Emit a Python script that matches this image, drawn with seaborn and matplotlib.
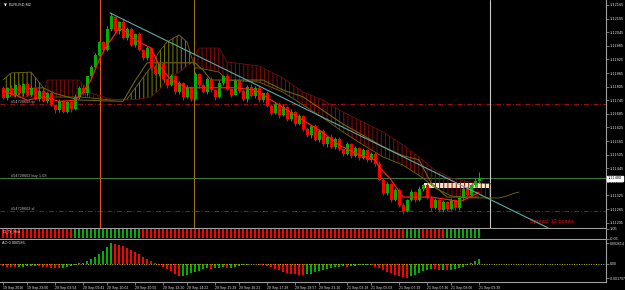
import matplotlib
matplotlib.use("Agg")
import matplotlib.pyplot as plt
import matplotlib.patches as mpatches
import numpy as np
import seaborn as sns

sns.set_theme(style="dark", rc={
    "axes.facecolor": "black",
    "figure.facecolor": "black",
    "savefig.facecolor": "black",
    "axes.grid": False,
})
plt.rcParams["font.family"] = ["Liberation Sans", "DejaVu Sans"]
plt.rcParams["hatch.linewidth"] = 0.7

# ---- EURUSD M2 candles (one entry per bar) ----
opens = [
    1.11800, 1.11755, 1.11800, 1.11770, 1.11810, 1.11775, 1.11815, 1.11770, 1.11800, 1.11750,
    1.11785, 1.11740, 1.11775, 1.11725, 1.11700, 1.11740, 1.11695, 1.11735, 1.11705, 1.11760,
    1.11800, 1.11775, 1.11850, 1.11890, 1.11945, 1.12000, 1.11965, 1.12060, 1.12110, 1.12050,
    1.12090, 1.12020, 1.12060, 1.11990, 1.12035, 1.11965, 1.11930, 1.11975, 1.11890, 1.11860,
    1.11905, 1.11840, 1.11810, 1.11850, 1.11780, 1.11820, 1.11760, 1.11800, 1.11750, 1.11860,
    1.11810, 1.11780, 1.11840, 1.11790, 1.11760, 1.11820, 1.11850, 1.11795, 1.11770, 1.11830,
    1.11785, 1.11750, 1.11805, 1.11765, 1.11800, 1.11745, 1.11775, 1.11720, 1.11690, 1.11730,
    1.11680, 1.11715, 1.11660, 1.11695, 1.11640, 1.11675, 1.11620, 1.11590, 1.11630, 1.11570,
    1.11610, 1.11550, 1.11585, 1.11540, 1.11575, 1.11530, 1.11510, 1.11550, 1.11500, 1.11535,
    1.11490, 1.11525, 1.11480, 1.11510, 1.11465, 1.11395, 1.11335, 1.11375, 1.11305, 1.11350,
    1.11285, 1.11255, 1.11305, 1.11340, 1.11305, 1.11355, 1.11370, 1.11315, 1.11270, 1.11305,
    1.11260, 1.11295, 1.11265, 1.11305, 1.11270, 1.11315, 1.11355, 1.11325, 1.11370, 1.11390,
]
closes = [
    1.11755, 1.11800, 1.11770, 1.11810, 1.11775, 1.11815, 1.11770, 1.11800, 1.11750, 1.11785,
    1.11740, 1.11775, 1.11725, 1.11700, 1.11740, 1.11695, 1.11735, 1.11705, 1.11760, 1.11800,
    1.11775, 1.11850, 1.11890, 1.11945, 1.12000, 1.11965, 1.12060, 1.12115, 1.12050, 1.12090,
    1.12020, 1.12060, 1.11990, 1.12035, 1.11965, 1.11930, 1.11975, 1.11890, 1.11860, 1.11905,
    1.11840, 1.11810, 1.11850, 1.11780, 1.11820, 1.11760, 1.11800, 1.11750, 1.11860, 1.11810,
    1.11780, 1.11840, 1.11790, 1.11760, 1.11820, 1.11850, 1.11795, 1.11770, 1.11830, 1.11785,
    1.11750, 1.11805, 1.11765, 1.11800, 1.11745, 1.11775, 1.11720, 1.11690, 1.11730, 1.11680,
    1.11715, 1.11660, 1.11695, 1.11640, 1.11675, 1.11620, 1.11590, 1.11630, 1.11570, 1.11610,
    1.11550, 1.11585, 1.11540, 1.11575, 1.11530, 1.11510, 1.11550, 1.11500, 1.11535, 1.11490,
    1.11525, 1.11480, 1.11510, 1.11465, 1.11395, 1.11335, 1.11375, 1.11305, 1.11350, 1.11285,
    1.11255, 1.11305, 1.11340, 1.11305, 1.11355, 1.11370, 1.11315, 1.11270, 1.11305, 1.11260,
    1.11295, 1.11265, 1.11305, 1.11270, 1.11315, 1.11355, 1.11325, 1.11370, 1.11390, 1.11400,
]
highs = [
    1.11808, 1.11805, 1.11812, 1.11816, 1.11820, 1.11819, 1.11824, 1.11807, 1.11808, 1.11790,
    1.11797, 1.11781, 1.11785, 1.11729, 1.11749, 1.11747, 1.11743, 1.11740, 1.11772, 1.11806,
    1.11810, 1.11854, 1.11899, 1.11952, 1.12008, 1.12005, 1.12072, 1.12130, 1.12118, 1.12095,
    1.12102, 1.12066, 1.12070, 1.12039, 1.12044, 1.11972, 1.11983, 1.11980, 1.11902, 1.11911,
    1.11915, 1.11844, 1.11859, 1.11857, 1.11828, 1.11825, 1.11812, 1.11806, 1.11870, 1.11864,
    1.11819, 1.11847, 1.11848, 1.11795, 1.11832, 1.11856, 1.11860, 1.11799, 1.11839, 1.11837,
    1.11793, 1.11810, 1.11817, 1.11806, 1.11810, 1.11779, 1.11784, 1.11727, 1.11738, 1.11735,
    1.11727, 1.11721, 1.11705, 1.11699, 1.11684, 1.11682, 1.11628, 1.11635, 1.11642, 1.11616,
    1.11620, 1.11589, 1.11594, 1.11582, 1.11583, 1.11535, 1.11562, 1.11556, 1.11545, 1.11539,
    1.11534, 1.11532, 1.11518, 1.11515, 1.11477, 1.11401, 1.11385, 1.11379, 1.11359, 1.11357,
    1.11293, 1.11310, 1.11352, 1.11346, 1.11365, 1.11374, 1.11379, 1.11322, 1.11313, 1.11310,
    1.11307, 1.11301, 1.11315, 1.11309, 1.11324, 1.11362, 1.11363, 1.11375, 1.11402, 1.11428,
]
lows = [
    1.11749, 1.11745, 1.11766, 1.11761, 1.11768, 1.11763, 1.11765, 1.11762, 1.11744, 1.11740,
    1.11736, 1.11731, 1.11718, 1.11688, 1.11695, 1.11687, 1.11689, 1.11695, 1.11701, 1.11751,
    1.11768, 1.11763, 1.11845, 1.11882, 1.11939, 1.11955, 1.11961, 1.12051, 1.12043, 1.12038,
    1.12015, 1.12012, 1.11984, 1.11980, 1.11961, 1.11921, 1.11923, 1.11878, 1.11855, 1.11852,
    1.11834, 1.11800, 1.11806, 1.11771, 1.11773, 1.11748, 1.11755, 1.11742, 1.11744, 1.11800,
    1.11776, 1.11771, 1.11783, 1.11748, 1.11755, 1.11812, 1.11789, 1.11760, 1.11766, 1.11776,
    1.11743, 1.11738, 1.11760, 1.11757, 1.11739, 1.11735, 1.11716, 1.11681, 1.11683, 1.11668,
    1.11675, 1.11652, 1.11654, 1.11630, 1.11636, 1.11611, 1.11583, 1.11578, 1.11565, 1.11562,
    1.11544, 1.11540, 1.11536, 1.11531, 1.11523, 1.11498, 1.11505, 1.11492, 1.11494, 1.11480,
    1.11486, 1.11471, 1.11473, 1.11453, 1.11390, 1.11327, 1.11329, 1.11295, 1.11301, 1.11276,
    1.11245, 1.11250, 1.11300, 1.11295, 1.11301, 1.11346, 1.11308, 1.11258, 1.11265, 1.11252,
    1.11254, 1.11255, 1.11261, 1.11261, 1.11263, 1.11303, 1.11320, 1.11317, 1.11364, 1.11380,
]

# ---- Ichimoku-style lines (bar index, price) ----
tenkan_bar = [0, 3, 6, 10, 14, 18, 20, 22, 24, 26, 27, 29, 31, 33, 37, 39, 42, 46, 52, 58,
              63, 69, 74, 79, 84, 89, 93, 94, 97, 100, 107, 112, 114, 117, 119]
tenkan = [1.11785, 1.11770, 1.11745, 1.11760, 1.11740, 1.11745, 1.11780, 1.11834, 1.11922, 1.11990,
          1.12011, 1.12063, 1.12045, 1.12011, 1.11975, 1.11900, 1.11834, 1.11800, 1.11800, 1.11800,
          1.11790, 1.11724, 1.11667, 1.11614, 1.11548, 1.11504, 1.11482, 1.11452, 1.11394, 1.11318,
          1.11318, 1.11305, 1.11296, 1.11320, 1.11340]

kijun_bar = [0, 10, 13, 19, 30, 33, 36, 48, 50, 52, 65, 70, 75, 80, 85, 90, 95, 100, 104, 107, 111, 119]
kijun = [1.11790, 1.11800, 1.11775, 1.11746, 1.11740, 1.11830, 1.11910, 1.11910, 1.11878, 1.11834,
         1.11834, 1.11790, 1.11760, 1.11700, 1.11640, 1.11590, 1.11540, 1.11500, 1.11482, 1.11381,
         1.11318, 1.11318]

cloud_bar = [0, 2, 7, 10, 11, 19, 22, 27, 31, 34, 37, 39, 41, 44, 46, 47, 48, 49, 54, 56,
             64, 70, 75, 80, 85, 90, 95, 100, 105, 108, 112, 117, 122]
span_a = [1.11834, 1.11865, 1.11869, 1.11803, 1.11759, 1.11759, 1.11755, 1.11746, 1.11750, 1.11821,
          1.11892, 1.11958, 1.12002, 1.12033, 1.12002, 1.11944, 1.11887, 1.11887, 1.11869, 1.11834,
          1.11825, 1.11781, 1.11724, 1.11667, 1.11605, 1.11548, 1.11495, 1.11459, 1.11402, 1.11358,
          1.11323, 1.11314, 1.11314]
span_b = [1.11759, 1.11759, 1.11759, 1.11759, 1.11834, 1.11834, 1.11777, 1.11750, 1.11746, 1.11750,
          1.11759, 1.11790, 1.11834, 1.11869, 1.11896, 1.11909, 1.11944, 1.11975, 1.11975, 1.11914,
          1.11896, 1.11843, 1.11781, 1.11746, 1.11693, 1.11649, 1.11605, 1.11548, 1.11481, 1.11437,
          1.11402, 1.11384, 1.11376]
span_a_tail_bar = [122, 124, 126, 128, 129]
span_a_tail = [1.11314, 1.11314, 1.11323, 1.11336, 1.11340]

# ---- Awesome Oscillator ----
ao = [
    -0.00030, -0.00035, -0.00040, -0.00045, -0.00042, -0.00038, -0.00030, -0.00025, -0.00022, -0.00028,
    -0.00035, -0.00042, -0.00050, -0.00055, -0.00058, -0.00052, -0.00040, -0.00025, -0.00010, 0.00005,
    0.00015, 0.00035, 0.00060, 0.00090, 0.00120, 0.00160, 0.00210, 0.002614, 0.00252, 0.00240,
    0.00222, 0.00200, 0.00175, 0.00148, 0.00118, 0.00088, 0.00058, 0.00030, 0.00005, -0.00020,
    -0.00045, -0.00070, -0.00095, -0.00125, -0.00160, -0.00150, -0.00138, -0.00122, -0.00105, -0.00085,
    -0.00065, -0.00055, -0.00062, -0.00058, -0.00050, -0.00045, -0.00052, -0.00048, -0.00040, -0.00030,
    -0.00020, -0.00012, -0.00008, -0.00005, -0.00010, -0.00018, -0.00030, -0.00045, -0.00062, -0.00080,
    -0.00098, -0.00112, -0.00125, -0.00132, -0.00138, -0.00140, -0.00135, -0.00125, -0.00110, -0.00095,
    -0.00080, -0.00068, -0.00055, -0.00045, -0.00038, -0.00032, -0.00035, -0.00028, -0.00022, -0.00018,
    -0.00015, -0.00013, -0.00020, -0.00035, -0.00055, -0.00078, -0.00100, -0.00120, -0.00138, -0.00155,
    -0.00170, -0.001797, -0.00160, -0.00140, -0.00118, -0.00095, -0.00075, -0.00068, -0.00072, -0.00080,
    -0.00075, -0.00082, -0.00078, -0.00070, -0.00058, -0.00040, -0.00015, 0.00008, 0.00030, 0.000586,
]

# ---- Di_Tr_Hist state per bar (G = up, R = down) ----
di_state = "R" * 18 + "G" * 17 + "R" * 66 + "G" * 4 + "R" * 6 + "G" * 9

# ---- orders, objects and labels ----
tp_price, buy_price, sl_price = 1.11728, 1.11402, 1.11257
order_id = "#54728602"
vline_bars = [24.25, 47.75, 121.75]
vline_colors = ["#e8501a", "#9a7412", "#c8c8c8"]
trend_bars = [26.75, 136.25]
trend_price = [1.12130, 1.11182]
label_box = dict(start=105.25, end=121.5, low=1.11358, high=1.11381)

price_ticks = [1.11205, 1.11265, 1.11325, 1.11385, 1.11445, 1.11505, 1.11565, 1.11625, 1.11685,
               1.11745, 1.11805, 1.11865, 1.11925, 1.11985, 1.12045, 1.12105, 1.12165]
time_bars = [0, 6, 13, 20, 26, 33, 40, 46, 53, 59, 66, 73, 79, 86, 92, 99, 106, 112, 119]
time_labels = ["19 Sep 2016", "19 Sep 23:00", "20 Sep 03:54", "20 Sep 09:41", "20 Sep 10:02",
               "20 Sep 10:55", "20 Sep 12:20", "20 Sep 14:22", "20 Sep 15:28", "20 Sep 16:21",
               "20 Sep 17:28", "20 Sep 18:57", "20 Sep 21:16", "21 Sep 03:18", "21 Sep 05:03",
               "21 Sep 07:19", "21 Sep 07:36", "21 Sep 08:06", "21 Sep 09:39"]

BULL, BEAR = "#00b000", "#ff0000"
OLIVE, MAROON = "#7d7d00", "#8a0a0a"
AXCOL, TXT = "#a0a0a0", "#e0e0e0"
XLIM = (-0.75, 150.75)
YFS = 2.8

fig = plt.figure(figsize=(6.25, 2.9), dpi=100)
ax = fig.add_axes([0.0, 62 / 290, 606 / 625, 228 / 290])
ax_di = fig.add_axes([0.0, 51.5 / 290, 606 / 625, 9.5 / 290])
ax_ao = fig.add_axes([0.0, 8 / 290, 606 / 625, 42 / 290])

for a in (ax, ax_di, ax_ao):
    a.set_facecolor("black")
    a.set_xlim(*XLIM)
    for s in ("left", "top"):
        a.spines[s].set_visible(False)
    for s in ("right", "bottom"):
        a.spines[s].set_color(AXCOL)
        a.spines[s].set_linewidth(0.8)
    a.yaxis.tick_right()
    a.tick_params(axis="y", colors=AXCOL, labelcolor=TXT, labelsize=YFS, length=2,
                  width=0.5, pad=1.0, direction="out")
    a.tick_params(axis="x", bottom=False, labelbottom=False)

# ---- main price panel ----
bars = np.arange(len(closes))
o, c, h, l = map(np.array, (opens, closes, highs, lows))
col = np.where(c >= o, BULL, BEAR)

box = mpatches.Rectangle((label_box["start"], label_box["low"]), label_box["end"] - label_box["start"],
                         label_box["high"] - label_box["low"], facecolor="#fbe4c6", lw=0, zorder=1.5)
ax.add_patch(box)

cb, sa, sb = np.array(cloud_bar), np.array(span_a), np.array(span_b)
ax.fill_between(cb, sa, sb, where=sa >= sb, interpolate=True, facecolor="none",
                edgecolor=OLIVE, hatch="||||", lw=0, zorder=2)
ax.fill_between(cb, sa, sb, where=sa < sb, interpolate=True, facecolor="none",
                edgecolor=MAROON, hatch="||||", lw=0, zorder=2)
sns.lineplot(x=cloud_bar + span_a_tail_bar[1:], y=span_a + span_a_tail[1:], ax=ax,
             color="#6f6a10", lw=0.6, zorder=2.5)
sns.lineplot(x=cloud_bar, y=span_b, ax=ax, color="#6a1010", lw=0.6, zorder=2.5)
sns.lineplot(x=kijun_bar, y=kijun, ax=ax, color="#6f6210", lw=0.8, zorder=3)

ax.axhline(tp_price, color="#a01010", lw=0.7, ls=(0, (5, 2, 1, 2)), zorder=1)
ax.axhline(sl_price, color="#a01010", lw=0.7, ls=(0, (5, 2, 1, 2)), zorder=1)
ax.axhline(buy_price, color="#3f7f3f", lw=0.7, zorder=1)
for vb, vc in zip(vline_bars, vline_colors):
    ax.axvline(vb, color=vc, lw=0.8, zorder=1)

ax.vlines(bars, l, h, colors=col, lw=0.72, zorder=4)
ax.bar(bars, np.abs(c - o), bottom=np.minimum(o, c), width=0.75, color=col, lw=0, zorder=5)

sns.lineplot(x=tenkan_bar, y=tenkan, ax=ax, color="#ff1a1a", lw=0.9, zorder=6)
sns.lineplot(x=trend_bars, y=trend_price, ax=ax, color="#5fa8a4", lw=0.8, zorder=6)

ax.set_ylim(1.111815, 1.12187)
ax.set_yticks(price_ticks)
ax.set_yticklabels([f"{v:.5f}" for v in price_ticks])
ax.set_xlabel("")
ax.set_ylabel("")

ax.text(2, tp_price, f"{order_id} tp", color="#b8b8b8", fontsize=2.8, va="bottom", ha="left")
ax.text(2, buy_price, f"{order_id} buy 1.08", color="#b8b8b8", fontsize=2.8, va="bottom", ha="left")
ax.text(2, sl_price, f"{order_id} sl", color="#b8b8b8", fontsize=2.8, va="bottom", ha="left")
ax.text(0.875, 0.03, "Spread: 12 points.", transform=ax.transAxes, color="#e01010",
        fontsize=4.0, va="center", ha="left")
ax.text(0.006, 0.985, "\u25bc", transform=ax.transAxes, color="white", fontsize=2.6,
        va="top", ha="left", family="DejaVu Sans")
ax.text(0.014, 0.988, "EURUSD,M2", transform=ax.transAxes, color=TXT, fontsize=2.8,
        va="top", ha="left")
ax.annotate(f"{closes[-1]:.5f}", xy=(1.0, closes[-1]), xycoords=("axes fraction", "data"),
            xytext=(1.4, 0), textcoords="offset points", fontsize=YFS, color="black",
            va="center", ha="left",
            bbox=dict(boxstyle="square,pad=0.12", facecolor="white", edgecolor="white"))

# ---- Di_Tr_Hist panel ----
di_col = [BULL if s == "G" else BEAR for s in di_state]
ax_di.bar(bars, np.ones(len(bars)), width=0.7, color=di_col, lw=0)
ax_di.set_ylim(-0.05, 1.05)
ax_di.set_yticks([-0.05, 1.05])
ax_di.set_yticklabels(["-0.05", "1.05"])
ax_di.text(0.004, 0.92, "Di_Tr_Hist", transform=ax_di.transAxes, color=TXT, fontsize=2.8,
           va="top", ha="left")

# ---- AO panel ----
ao_arr = np.array(ao)
ao_col = [BEAR] + [BULL if ao_arr[i] > ao_arr[i - 1] else BEAR for i in range(1, len(ao_arr))]
ax_ao.bar(bars, ao_arr, width=0.7, color=ao_col, lw=0)
ax_ao.axhline(0, color="#c8c000", lw=0.7, ls=(0, (1, 1.5)))
ax_ao.set_ylim(-0.0023, 0.003)
ax_ao.set_yticks([-0.001797, 0.0, 0.002614])
ax_ao.set_yticklabels(["-0.001797", "0.00", "0.002614"])
ax_ao.tick_params(axis="y", labelsize=2.5, pad=0.8)
ax_ao.text(0.004, 0.97, f"AO {ao[-1]:.6f}", transform=ax_ao.transAxes, color=TXT, fontsize=2.8,
           va="top", ha="left")
ax_ao.tick_params(axis="x", bottom=True, labelbottom=True, colors=AXCOL, labelcolor=TXT,
                  labelsize=2.5, length=2, width=0.5, pad=0.8, direction="out")
ax_ao.set_xticks(time_bars)
ax_ao.set_xticklabels(time_labels, ha="left")

fig.savefig("out.png", dpi=100, facecolor="black")
